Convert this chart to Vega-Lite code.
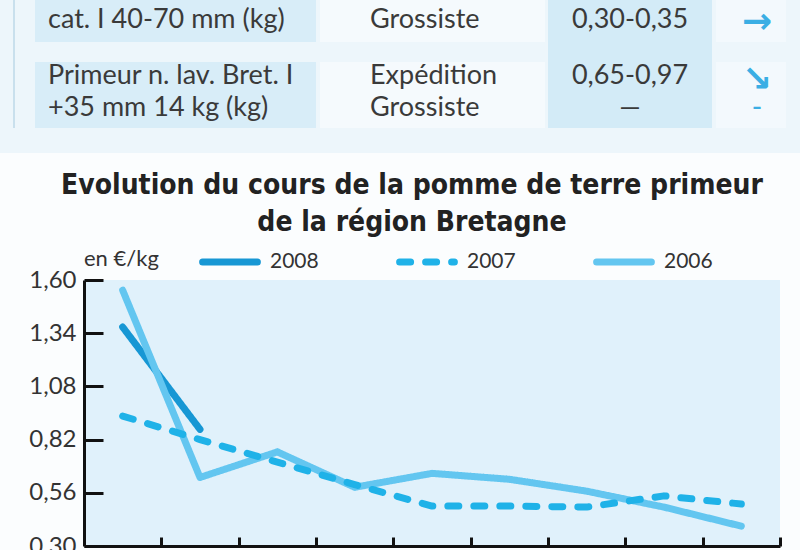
{
  "$schema": "https://vega.github.io/schema/vega-lite/v6.json",
  "background": "#fbfdfe",
  "padding": 0,
  "spacing": 19,
  "config": {"view": {"stroke": null}},
  "resolve": {
    "scale": {"color": "independent", "strokeDash": "independent", "strokeWidth": "independent"},
    "legend": {"color": "independent", "strokeDash": "independent", "strokeWidth": "independent"}
  },
  "datasets": {
    "cellules": [
      {"colonne": "Fond", "x0": -3, "x1": 8, "y0": 0, "y1": 4},
      {"colonne": "Filet", "x0": -2, "x1": -1, "y0": 0, "y1": 3},
      {"colonne": "Produit", "x0": 0, "x1": 1, "y0": 0, "y1": 1},
      {"colonne": "Produit", "x0": 0, "x1": 1, "y0": 2, "y1": 3},
      {"colonne": "Stade", "x0": 2, "x1": 3, "y0": 0, "y1": 1},
      {"colonne": "Stade", "x0": 2, "x1": 3, "y0": 2, "y1": 3},
      {"colonne": "Prix", "x0": 4, "x1": 5, "y0": 0, "y1": 3},
      {"colonne": "Tendance", "x0": 6, "x1": 7, "y0": 0, "y1": 1},
      {"colonne": "Tendance", "x0": 6, "x1": 7, "y0": 2, "y1": 3}
    ],
    "tableau": [
      {"colonne": 1, "ligne": 2, "texte": "cat. I 40-70 mm (kg)"},
      {"colonne": 1, "ligne": 3, "texte": "Primeur n. lav. Bret. I"},
      {"colonne": 1, "ligne": 4, "texte": "+35 mm 14 kg (kg)"},
      {"colonne": 2, "ligne": 1, "texte": "Expédition"},
      {"colonne": 2, "ligne": 2, "texte": "Grossiste"},
      {"colonne": 2, "ligne": 3, "texte": "Expédition"},
      {"colonne": 2, "ligne": 4, "texte": "Grossiste"},
      {"colonne": 3, "ligne": 1, "texte": "0,35-0,40"},
      {"colonne": 3, "ligne": 2, "texte": "0,30-0,35"},
      {"colonne": 3, "ligne": 3, "texte": "0,65-0,97"},
      {"colonne": 3, "ligne": 4, "texte": "—"},
      {"colonne": 4, "ligne": 1, "texte": "↘"},
      {"colonne": 4, "ligne": 2, "texte": "→"},
      {"colonne": 4, "ligne": 3, "texte": "↘"},
      {"colonne": 4, "ligne": 4, "texte": "–"}
    ],
    "cours": [
      {"annee": "2008", "periode": 1, "prix": 1.37},
      {"annee": "2008", "periode": 2, "prix": 0.87},
      {"annee": "2006", "periode": 1, "prix": 1.55},
      {"annee": "2006", "periode": 2, "prix": 0.635},
      {"annee": "2006", "periode": 3, "prix": 0.76},
      {"annee": "2006", "periode": 4, "prix": 0.587},
      {"annee": "2006", "periode": 5, "prix": 0.655},
      {"annee": "2006", "periode": 6, "prix": 0.626},
      {"annee": "2006", "periode": 7, "prix": 0.568},
      {"annee": "2006", "periode": 8, "prix": 0.49},
      {"annee": "2006", "periode": 9, "prix": 0.397},
      {"annee": "2007", "periode": 1, "prix": 0.935},
      {"annee": "2007", "periode": 2, "prix": 0.82},
      {"annee": "2007", "periode": 3, "prix": 0.71},
      {"annee": "2007", "periode": 4, "prix": 0.6},
      {"annee": "2007", "periode": 5, "prix": 0.495},
      {"annee": "2007", "periode": 6, "prix": 0.495},
      {"annee": "2007", "periode": 7, "prix": 0.49},
      {"annee": "2007", "periode": 8, "prix": 0.545},
      {"annee": "2007", "periode": 9, "prix": 0.505}
    ]
  },
  "vconcat": [
    {
      "width": 716,
      "height": 153,
      "resolve": {"scale": {"x": "independent", "y": "independent"}},
      "layer": [
        {
          "data": {"name": "cellules"},
          "mark": {"type": "rect", "clip": false},
          "encoding": {
            "x": {"field": "x0", "type": "quantitative", "axis": null,
                  "scale": {"domain": [-3, -2, -1, 0, 1, 2, 3, 4, 5, 6, 7, 8], "range": [-84, -71, -69, -49, 232, 236, 461, 464, 628, 632, 702, 716], "nice": false, "zero": false}},
            "x2": {"field": "x1"},
            "y": {"field": "y0", "type": "quantitative", "axis": null,
                  "scale": {"domain": [0, 1, 2, 3, 4], "range": [0, 42, 62, 128, 153], "nice": false, "zero": false}},
            "y2": {"field": "y1"},
            "color": {"field": "colonne", "type": "nominal", "legend": null,
                      "scale": {"domain": ["Fond", "Filet", "Produit", "Stade", "Prix", "Tendance"], "range": ["#edf6fb", "#c9e0ed", "#d8edf8", "#f5fafd", "#d3ebf7", "#f3f9fd"]}}
          }
        },
        {
          "data": {"name": "tableau"},
          "transform": [{"filter": "datum.colonne == 1"}],
          "mark": {"type": "text", "align": "left", "baseline": "middle", "font": "Lato", "fontSize": 27, "color": "#3a3a3a", "clip": false},
          "encoding": {
            "x": {"field": "colonne", "type": "quantitative", "axis": null,
                  "scale": {"domain": [1, 2, 3, 4], "range": [-36, 286, 546, 673], "nice": false, "zero": false}},
            "y": {"field": "ligne", "type": "quantitative", "axis": null,
                  "scale": {"domain": [1, 2, 3, 4], "range": [-13, 20, 76, 108], "nice": false, "zero": false}},
            "text": {"field": "texte"}
          }
        },
        {
          "data": {"name": "tableau"},
          "transform": [{"filter": "datum.colonne == 2"}],
          "mark": {"type": "text", "align": "left", "baseline": "middle", "font": "Lato", "fontSize": 27, "color": "#3a3a3a", "clip": true},
          "encoding": {
            "x": {"field": "colonne", "type": "quantitative", "axis": null,
                  "scale": {"domain": [1, 2, 3, 4], "range": [-36, 286, 546, 673], "nice": false, "zero": false}},
            "y": {"field": "ligne", "type": "quantitative", "axis": null,
                  "scale": {"domain": [1, 2, 3, 4], "range": [-13, 20, 76, 108], "nice": false, "zero": false}},
            "text": {"field": "texte"}
          }
        },
        {
          "data": {"name": "tableau"},
          "transform": [{"filter": "datum.colonne == 3"}],
          "mark": {"type": "text", "align": "center", "baseline": "middle", "font": "Lato", "fontSize": 27, "color": "#3a3a3a", "clip": true},
          "encoding": {
            "x": {"field": "colonne", "type": "quantitative", "axis": null,
                  "scale": {"domain": [1, 2, 3, 4], "range": [-36, 286, 546, 673], "nice": false, "zero": false}},
            "y": {"field": "ligne", "type": "quantitative", "axis": null,
                  "scale": {"domain": [1, 2, 3, 4], "range": [-13, 20, 76, 108], "nice": false, "zero": false}},
            "text": {"field": "texte"}
          }
        },
        {
          "data": {"name": "tableau"},
          "transform": [{"filter": "datum.colonne == 4"}],
          "mark": {"type": "text", "align": "center", "baseline": "middle", "font": "DejaVu Sans", "fontWeight": "bold", "color": "#3aaee4", "clip": true},
          "encoding": {
            "x": {"field": "colonne", "type": "quantitative", "axis": null,
                  "scale": {"domain": [1, 2, 3, 4], "range": [-36, 286, 546, 673], "nice": false, "zero": false}},
            "y": {"field": "ligne", "type": "quantitative", "axis": null,
                  "scale": {"domain": [1, 2, 3, 4], "range": [-13, 22, 80, 108], "nice": false, "zero": false}},
            "size": {"condition": {"test": "datum.ligne == 4", "value": 18}, "value": 36},
            "text": {"field": "texte"}
          }
        }
      ]
    },
    {
      "width": 696,
      "height": 266,
      "view": {"fill": "#e0f1fb", "stroke": null},
      "title": {
        "text": ["Evolution du cours de la pomme de terre primeur", "de la région Bretagne"],
        "font": "DejaVu Sans Condensed",
        "fontSize": 28,
        "fontWeight": "bold",
        "lineHeight": 37,
        "color": "#222222",
        "anchor": "middle",
        "frame": "group",
        "dx": -20,
        "offset": -6
      },
      "data": {"name": "cours"},
      "mark": {"type": "line", "strokeCap": "round", "strokeJoin": "round"},
      "encoding": {
        "x": {
          "field": "periode", "type": "quantitative",
          "scale": {"domain": [0.5, 9.5], "nice": false, "zero": false},
          "axis": {"values": [1.5, 2.5, 3.5, 4.5, 5.5, 6.5, 7.5, 8.5, 9.5], "labels": false, "title": null, "grid": false,
                   "tickSize": -9, "tickWidth": 3, "tickColor": "#111111", "domainColor": "#111111", "domainWidth": 3}
        },
        "y": {
          "field": "prix", "type": "quantitative",
          "scale": {"domain": [0.3, 1.6], "nice": false, "zero": false},
          "axis": {"values": [0.3, 0.56, 0.82, 1.08, 1.34, 1.6], "labelExpr": "replace(format(datum.value, '.2f'), '.', ',')",
                   "title": null, "grid": false, "minExtent": 84, "labelOverlap": false,
                   "labelFont": "Lato", "labelFontSize": 24, "labelColor": "#333333", "labelPadding": 27,
                   "tickSize": -19, "tickWidth": 3, "tickColor": "#111111", "domainColor": "#111111", "domainWidth": 3}
        },
        "color": {
          "field": "annee", "type": "nominal",
          "scale": {"domain": ["2008", "2007", "2006"], "range": ["#1797d4", "#1fb2e8", "#63c6f0"]},
          "legend": {
            "title": "en €/kg", "orient": "top", "direction": "horizontal", "titleOrient": "left",
            "titleFont": "Lato", "titleFontSize": 22, "titleFontWeight": "normal", "titleColor": "#333333", "titlePadding": 40,
            "labelFont": "Lato", "labelFontSize": 21, "labelColor": "#333333", "labelOffset": 9,
            "symbolType": "stroke", "symbolSize": 3000, "columnPadding": 66, "offset": 4,
            "encode": {"symbols": {"update": {"strokeCap": {"value": "round"}}}, "title": {"update": {"dy": {"value": 5}}}}
          }
        },
        "strokeDash": {
          "field": "annee", "type": "nominal",
          "scale": {"domain": ["2008", "2007", "2006"], "range": [[1, 0], [11, 15], [1, 0]]},
          "legend": {
            "title": "en €/kg", "orient": "top", "direction": "horizontal", "titleOrient": "left",
            "titleFont": "Lato", "titleFontSize": 22, "titleFontWeight": "normal", "titleColor": "#333333", "titlePadding": 40,
            "labelFont": "Lato", "labelFontSize": 21, "labelColor": "#333333", "labelOffset": 9,
            "symbolType": "stroke", "symbolSize": 3000, "columnPadding": 66, "offset": 4,
            "encode": {"symbols": {"update": {"strokeCap": {"value": "round"}}}, "title": {"update": {"dy": {"value": 5}}}}
          }
        },
        "strokeWidth": {
          "field": "annee", "type": "nominal",
          "scale": {"domain": ["2008", "2007", "2006"], "range": [7, 7, 8]},
          "legend": {
            "title": "en €/kg", "orient": "top", "direction": "horizontal", "titleOrient": "left",
            "titleFont": "Lato", "titleFontSize": 22, "titleFontWeight": "normal", "titleColor": "#333333", "titlePadding": 40,
            "labelFont": "Lato", "labelFontSize": 21, "labelColor": "#333333", "labelOffset": 9,
            "symbolType": "stroke", "symbolSize": 3000, "columnPadding": 66, "offset": 4,
            "encode": {"symbols": {"update": {"strokeCap": {"value": "round"}}}, "title": {"update": {"dy": {"value": 5}}}}
          }
        }
      }
    }
  ]
}
